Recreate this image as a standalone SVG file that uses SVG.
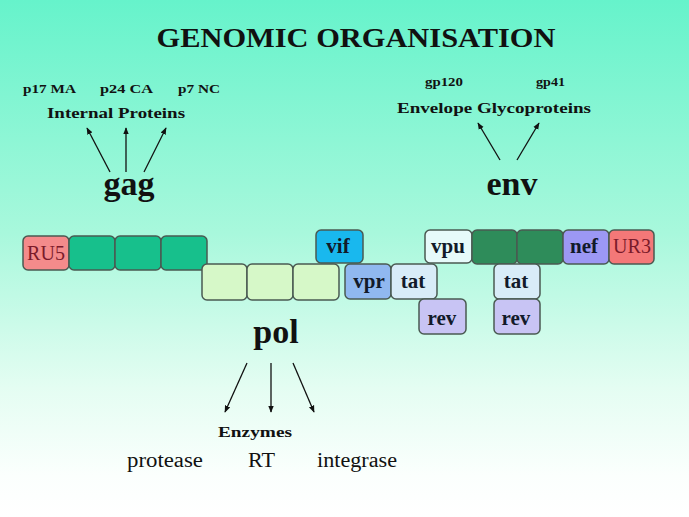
<svg xmlns="http://www.w3.org/2000/svg" width="689" height="517" viewBox="0 0 689 517">
<defs>
<linearGradient id="bg" x1="0" y1="0" x2="0" y2="1">
<stop offset="0" stop-color="#66f3cb"/>
<stop offset="0.45" stop-color="#a8f8dc"/>
<stop offset="0.75" stop-color="#e4fdf2"/>
<stop offset="0.92" stop-color="#fbfffd"/>
<stop offset="1" stop-color="#ffffff"/>
</linearGradient>
<marker id="ah" viewBox="0 0 10 10" refX="9" refY="5" markerWidth="7" markerHeight="7" orient="auto" markerUnits="userSpaceOnUse">
<path d="M0,1 L10,5 L0,9 z" fill="#111"/>
</marker>
<style>
.t{font-family:"Liberation Serif","Times New Roman",serif;fill:#111}
.b{font-weight:bold}
.box{stroke:#4a5a52;stroke-width:1.5}
.bl{font-family:"Liberation Serif","Times New Roman",serif;font-weight:bold;font-size:21px;fill:#121a2a}
.red{font-family:"Liberation Serif","Times New Roman",serif;font-size:20px;fill:#7a1a2a}
.arr{stroke:#111;stroke-width:1.3;fill:none;marker-end:url(#ah)}
</style>
</defs>
<rect width="689" height="517" fill="url(#bg)"/>
<text class="t b" x="356" y="47" text-anchor="middle" font-size="27" textLength="399" lengthAdjust="spacingAndGlyphs">GENOMIC ORGANISATION</text>

<g id="gag-labels">
<text class="t b" x="23" y="93" font-size="12" textLength="53" lengthAdjust="spacingAndGlyphs">p17 MA</text>
<text class="t b" x="100" y="93" font-size="12" textLength="53" lengthAdjust="spacingAndGlyphs">p24 CA</text>
<text class="t b" x="178" y="93" font-size="12" textLength="42" lengthAdjust="spacingAndGlyphs">p7 NC</text>
<text class="t b" x="47" y="118" font-size="14" textLength="138" lengthAdjust="spacingAndGlyphs">Internal Proteins</text>
</g>
<g id="gag">
<text class="t b" x="129" y="195" text-anchor="middle" font-size="34">gag</text>
</g>
<g id="env-labels">
<text class="t b" x="425" y="86" font-size="12" textLength="38" lengthAdjust="spacingAndGlyphs">gp120</text>
<text class="t b" x="536" y="86" font-size="12" textLength="29" lengthAdjust="spacingAndGlyphs">gp41</text>
<text class="t b" x="397" y="113" font-size="15" textLength="194" lengthAdjust="spacingAndGlyphs">Envelope Glycoproteins</text>
</g>
<g id="env">
<text class="t b" x="512" y="195" text-anchor="middle" font-size="34">env</text>
</g>
<g id="pol">
<text class="t b" x="276" y="343" text-anchor="middle" font-size="34">pol</text>
</g>
<g id="pol-labels">
<text class="t b" x="218" y="437" font-size="14" textLength="74" lengthAdjust="spacingAndGlyphs">Enzymes</text>
<text class="t" x="127" y="467" font-size="20" textLength="76" lengthAdjust="spacingAndGlyphs">protease</text>
<text class="t" x="248" y="467" font-size="20" textLength="27" lengthAdjust="spacingAndGlyphs">RT</text>
<text class="t" x="317" y="467" font-size="20" textLength="80" lengthAdjust="spacingAndGlyphs">integrase</text>
</g>

<g id="connectors">
<line class="arr" x1="110" y1="172" x2="87" y2="128"/>
<line class="arr" x1="126" y1="172" x2="126" y2="128"/>
<line class="arr" x1="144" y1="172" x2="166" y2="128"/>
<line class="arr" x1="500" y1="160" x2="478" y2="123"/>
<line class="arr" x1="517" y1="160" x2="539" y2="123"/>
<line class="arr" x1="247" y1="363" x2="225" y2="412"/>
<line class="arr" x1="271" y1="363" x2="271" y2="412"/>
<line class="arr" x1="293" y1="363" x2="314" y2="412"/>
</g>

<g id="RU5"><rect class="box" x="23" y="236" width="46" height="34" rx="5" fill="#f48b8b"/><text class="red" x="46" y="260" text-anchor="middle">RU5</text></g>
<g id="gag1"><rect class="box" x="69" y="236" width="46" height="34" rx="5" fill="#17c08c"/></g>
<g id="gag2"><rect class="box" x="115" y="236" width="46" height="34" rx="5" fill="#17c08c"/></g>
<g id="gag3"><rect class="box" x="161" y="236" width="46" height="34" rx="5" fill="#17c08c"/></g>
<g id="pol1"><rect class="box" x="202" y="264" width="45" height="36" rx="5" fill="#d6f8c8"/></g>
<g id="pol2"><rect class="box" x="247" y="264" width="46" height="36" rx="5" fill="#d6f8c8"/></g>
<g id="pol3"><rect class="box" x="293" y="264" width="46" height="36" rx="5" fill="#d6f8c8"/></g>
<g id="vif"><rect class="box" x="316" y="230" width="47" height="33" rx="5" fill="#19b8ee"/><text class="bl" x="338" y="253" text-anchor="middle">vif</text></g>
<g id="vpr"><rect class="box" x="345" y="264" width="46" height="35" rx="5" fill="#90b8f0"/><text class="bl" x="369" y="288" text-anchor="middle">vpr</text></g>
<g id="tat1"><rect class="box" x="391" y="264" width="46" height="35" rx="5" fill="#d8ecf8"/><text class="bl" x="413" y="288" text-anchor="middle">tat</text></g>
<g id="rev1"><rect class="box" x="419" y="299" width="47" height="35" rx="5" fill="#c8c4f4"/><text class="bl" x="442" y="325" text-anchor="middle">rev</text></g>
<g id="vpu"><rect class="box" x="425" y="230" width="47" height="33" rx="5" fill="#e6fafa"/><text class="bl" x="448" y="253" text-anchor="middle">vpu</text></g>
<g id="env1"><rect class="box" x="472" y="230" width="45" height="34" rx="5" fill="#2e8c5a"/></g>
<g id="env2"><rect class="box" x="517" y="230" width="46" height="34" rx="5" fill="#2e8c5a"/></g>
<g id="nef"><rect class="box" x="563" y="230" width="46" height="34" rx="5" fill="#9c98f4"/><text class="bl" x="584" y="253" text-anchor="middle">nef</text></g>
<g id="UR3"><rect class="box" x="609" y="230" width="45" height="34" rx="5" fill="#f47878"/><text class="red" x="632" y="253" text-anchor="middle">UR3</text></g>
<g id="tat2"><rect class="box" x="494" y="264" width="46" height="35" rx="5" fill="#d8ecf8"/><text class="bl" x="516" y="288" text-anchor="middle">tat</text></g>
<g id="rev2"><rect class="box" x="494" y="299" width="46" height="35" rx="5" fill="#c8c4f4"/><text class="bl" x="516" y="325" text-anchor="middle">rev</text></g>
</svg>
